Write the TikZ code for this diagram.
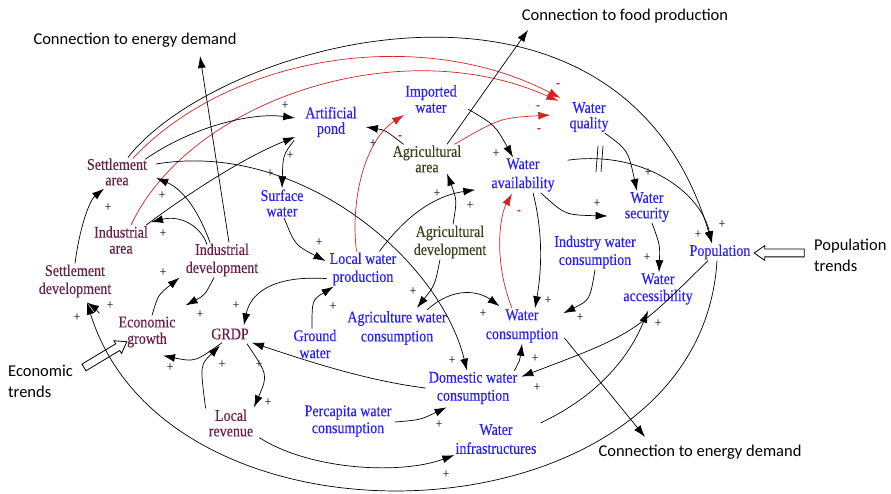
\documentclass[tikz,border=0pt]{standalone}
\usepackage{fontspec}
\setmainfont{Liberation Serif}[FakeStretch=0.86, FakeBold=0.25]
\newfontfamily\calib{Carlito}
\usetikzlibrary{arrows.meta,shapes.arrows,calc}
\definecolor{ecoc}{RGB}{105,30,70}
\definecolor{watc}{RGB}{40,30,250}
\definecolor{agrc}{RGB}{55,65,25}
\definecolor{redc}{RGB}{215,35,35}
\definecolor{plc}{RGB}{60,50,80}
\newcommand{\fs}[1]{\fontsize{16.3}{#1}\selectfont}
\begin{document}
\begin{tikzpicture}[x=1pt,y=-1pt,
  nb/.style={font=\rmfamily\fs{17}, align=center, inner sep=1pt},
  eco/.style={nb, text=ecoc},
  wat/.style={nb, text=watc},
  agr/.style={nb, text=agrc},
  lab/.style={font=\calib\fontsize{16.5}{21}\selectfont, inner sep=1pt, align=left},
  arr/.style={-{Latex[length=12pt,width=8pt]}, line width=0.7pt, draw=black},
  rarr/.style={arr, draw=redc},
  ln/.style={line width=0.7pt, draw=black},
  pl/.style={font=\rmfamily\fontsize{13}{13}\selectfont, text=plc, inner sep=0pt},
  mi/.style={font=\rmfamily\bfseries\fontsize{13}{13}\selectfont, text=redc, inner sep=0pt},
  hollow/.style={single arrow, draw, line width=0.8pt, fill=white, minimum height=50pt,
    inner sep=3.5pt, single arrow head extend=3.5pt, single arrow tip angle=70}
]
\useasboundingbox (0,0) rectangle (891,494);

% ---- nodes ----
\node[eco, font=\rmfamily\fs{15.5}] (SA) at (117,172) {Settlement\\area};
\node[eco, font=\rmfamily\fs{16}] (IA) at (121,240) {Industrial\\area};
\node[eco, font=\rmfamily\fs{18}] (SD) at (75,281) {Settlement\\development};
\node[eco, font=\rmfamily\fs{18}] (ID) at (222,260) {Industrial\\development};
\node[eco, font=\rmfamily\fs{16.5}] (EG) at (147,332) {Economic\\growth};
\node[eco] (GRDP) at (230,334) {GRDP};
\node[eco, font=\rmfamily\fs{15.5}] (LR) at (231,423) {Local\\revenue};
\node[wat, font=\rmfamily\fs{15.5}] (AP) at (331,122) {Artificial\\pond};
\node[wat, font=\rmfamily\fs{15.5}] (SW) at (282,203) {Surface\\water};
\node[wat, font=\rmfamily\fs{16}] (IW) at (431,99) {Imported\\water};
\node[agr, font=\rmfamily\fs{15.5}] (AA) at (427,159) {Agricultural\\area};
\node[wat, font=\rmfamily\fs{19}] (WAv) at (523,175) {Water\\availability};
\node[wat, font=\rmfamily\fs{15.5}] (WQ) at (589,117) {Water\\quality};
\node[wat, font=\rmfamily\fs{15.5}] (WS) at (647,207) {Water\\security};
\node[wat] (POP) at (720,252) {Population};
\node[wat] (WAc) at (658,289) {Water\\accessibility};
\node[wat, font=\rmfamily\fs{18}] (IWC) at (595,252) {Industry water\\consumption};
\node[agr, font=\rmfamily\fs{18}] (AD) at (450,242) {Agricultural\\development};
\node[wat, font=\rmfamily\fs{18}] (LWP) at (363,269) {Local water\\production};
\node[wat] (GW) at (315,344) {Ground\\water};
\node[wat, font=\rmfamily\fs{19}] (AWC) at (397,328) {Agriculture water\\consumption};
\node[wat, font=\rmfamily\fs{19}] (WC) at (522,326) {Water\\consumption};
\node[wat, font=\rmfamily\fs{18}] (DWC) at (473,388) {Domestic water\\consumption};
\node[wat] (PWC) at (348,421) {Percapita water\\consumption};
\node[wat, font=\rmfamily\fs{19}] (WI) at (496,439) {Water\\infrastructures};

\node[lab] (CE1) at (135,40) {Connection to energy demand};
\node[lab] (CF) at (625,16) {Connection to food production};
\node[lab] (CE2) at (700,452) {Connection to energy demand};
\node[lab, anchor=west] (PT) at (813,255) {Population\\trends};
\node[lab, anchor=west] (ET) at (7,381) {Economic\\trends};

\coordinate (ce1tip) at (200,56);
\coordinate (cftip) at (528,30);
\coordinate (ce2tip) at (645,437);

% ---- hollow trend arrows ----
\node[hollow, rotate=31] (ETarr) at (103,356) {};
\node[hollow, rotate=180] (PTarr) at (782,253) {};

% ---- outer arcs ----
\draw[arr] ($(SA.north)+(11,0)$) .. controls (220,40) and (620,-70) .. ($(POP.north)+(-8,0)$);
\draw[rarr] ($(SA.north)+(16,1)$) .. controls (230,55) and (420,25) .. ($(WQ.north west)+(-8,-3)$);
\draw[rarr] ($(IA.north)+(10,0)$) .. controls (190,100) and (400,30) .. ($(WQ.north west)+(-10,0)$);
\draw[arr] ($(POP.south)+(-3,0)$) .. controls (700,545) and (170,570) .. ($(SD.south)+(12,4)$);

% ---- economic side ----
\draw[arr] ($(SA.north east)+(-3,2)$) .. controls (190,128) and (250,112) .. ($(AP.west)+(-9,-4)$);
\draw[arr] ($(IA.north east)+(-3,0)$) .. controls (200,185) and (250,155) .. ($(AP.west)+(-9,15)$);
\draw[arr] ($(ID.north)+(-12,0)$) .. controls (200,215) and (185,190) .. ($(SA.east)+(8,6)$);
\draw[arr] ($(ID.north)+(-15,2)$) .. controls (200,225) and (180,215) .. ($(IA.north east)+(2,-3)$);
\draw[arr] ($(ID.north)+(7,0)$) -- (ce1tip);
\draw[arr] ($(ID.south)+(-8,0)$) .. controls (205,295) .. ($(EG.north east)+(9,-10)$);
\draw[arr] ($(EG.north)+(5,0)$) .. controls (158,295) .. ($(ID.south west)+(-5,0)$);
\draw[arr] ($(EG.north west)+(-18,-2)$) .. controls (95,308) .. ($(SD.south)+(12,4)$);
\draw[arr] (SD.north) .. controls (80,225) and (90,200) .. ($(SA.south)+(-13,2)$);
\draw[arr] ($(GRDP.south)+(-8,2)$) .. controls (195,362) .. ($(EG.south)+(16,7)$);
\draw[arr] ($(GRDP.south east)+(-3,3)$) .. controls (268,375) .. ($(LR.north)+(23,-1)$);
\draw[arr] ($(LR.north west)+(-2,0)$) .. controls (200,365) .. ($(GRDP.south)+(-10,5)$);
\draw[arr] ($(LR.south east)+(5,0)$) .. controls (310,470) and (400,475) .. (WI.south west);

% ---- water side ----
\draw[arr] ($(AP.south west)+(-10,2)$) .. controls (283,155) .. (SW.north);
\draw[arr] ($(SW.south)+(2,0)$) .. controls (295,245) .. ($(LWP.west)+(-3,-8)$);
\draw[arr] ($(SA.east)+(8,-8)$) .. controls (300,140) and (440,260) .. ($(DWC.north)+(-6,0)$);
\draw[arr] ($(LWP.south west)+(-2,-8)$) .. controls (270,275) and (250,295) .. ($(GRDP.north east)+(-6,-2)$);
\draw[arr] ($(GW.north)+(-3,0)$) .. controls (312,300) .. ($(LWP.south west)+(5,0)$);
\draw[arr] ($(LWP.north east)+(-18,0)$) .. controls (410,210) and (440,195) .. ($(WAv.south west)+(-15,-3)$);
\draw[rarr] ($(LWP.north west)+(28,0)$) .. controls (350,200) and (365,140) .. ($(IW.south west)+(0,1)$);
\draw[arr] ($(AA.north west)+(12,0)$) .. controls (385,130) .. ($(AP.east)+(8,5)$);
\draw[arr] ($(AA.north)+(20,0)$) -- (cftip);
\draw[rarr] ($(AA.north east)+(-8,0)$) .. controls (500,118) .. ($(WQ.west)+(-18,-2)$);
\draw[arr] ($(AD.north)+(3,0)$) .. controls (457,200) .. ($(AA.south)+(20,0)$);
\draw[arr] ($(AD.south)+(-10,0)$) .. controls (435,285) .. ($(AWC.north)+(20,-2)$);
\draw[arr] ($(AWC.north)+(30,0)$) .. controls (455,285) and (480,292) .. ($(WC.north west)+(15,-2)$);
\draw[arr] ($(IW.east)+(10,10)$) .. controls (495,125) .. ($(WAv.north)+(-10,0)$);
\draw[arr] ($(WAv.south)+(10,0)$) .. controls (545,240) and (540,280) .. ($(WC.north)+(13,0)$);
\draw[rarr] ($(WC.north)+(-10,0)$) .. controls (493,260) and (500,215) .. ($(WAv.south)+(-11,1)$);
\draw[arr] ($(WAv.south east)+(-15,0)$) .. controls (565,215) .. ($(WS.west)+(-16,9)$);
\draw[arr] ($(WAv.north east)+(12,3)$) .. controls (640,150) and (700,190) .. ($(POP.north)+(-8,0)$);
\draw[ln] (598,146) -- (596,172) (603,146) -- (601,172);
\draw[arr] ($(WQ.south east)+(-5,0)$) .. controls (628,150) .. ($(WS.north)+(-10,0)$);
\draw[arr] ($(WS.south)+(5,0)$) .. controls (660,245) .. ($(WAc.north)+(1,0)$);
\draw[arr] (IWC.south) .. controls (590,300) .. ($(WC.north east)+(4,5)$);
\draw[arr] ($(WC.east)+(5,12)$) -- (ce2tip);
\draw[arr] ($(DWC.north east)+(-4,0)$) .. controls (520,360) .. (WC.south);
\draw[arr] ($(DWC.west)+(-2,0)$) .. controls (360,380) and (290,355) .. ($(GRDP.south east)+(2,2)$);
\draw[arr] ($(PWC.east)+(2,1)$) .. controls (420,420) .. ($(DWC.south west)+(19,2)$);
\draw[arr] ($(POP.south)+(-12,0)$) .. controls (634,334) .. ($(DWC.north east)+(3,6)$);
\draw[arr] ($(WI.north east)+(3,0)$) .. controls (600,395) and (630,355) .. ($(WAc.south)+(-10,5)$);

% ---- polarity signs ----
\foreach \x/\y [count=\i] in {285/105,290/155,270/173,162/195,108/207,163/233,163/272,110/305,77/317,200/314,236/305,170/367,222/364,259/364,268/402,319/242,333/306,413/291,373/143,437/193,470/205,496/153,597/203,648/172,698/234,722/224,647/257,548/300,580/317,658/323,483/313,452/360,535/358,537/387,439/424,446/474}
  \node[pl] (p\i) at (\x,\y) {+};
\foreach \x/\y [count=\i] in {400/137,519/212,538/107,539/130,558/85}
  \node[mi] (m\i) at (\x,\y) {-};
\end{tikzpicture}
\end{document}
